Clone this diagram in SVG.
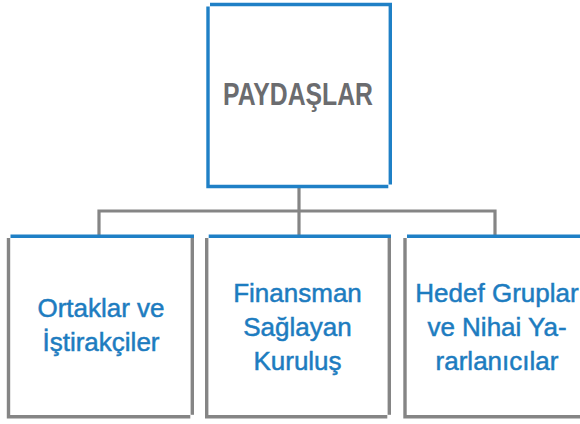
<svg xmlns="http://www.w3.org/2000/svg" width="580" height="424" viewBox="0 0 580 424">
<style>
.conn{fill:none;stroke:#858585;stroke-width:3.2}
.gray{fill:none;stroke:#858585;stroke-width:3.4}
.blue{fill:none;stroke:#1f80c6;stroke-width:3.4}
.lbl{font-family:"Liberation Sans",Arial,sans-serif;font-size:26px;fill:#1d7cc0;stroke:#1d7cc0;stroke-width:0.5;text-anchor:middle}
.title{font-family:"Liberation Sans Narrow","Liberation Sans",Arial,sans-serif;font-size:31px;font-weight:bold;fill:#6b6c6f;text-anchor:middle}
</style>
<rect width="580" height="424" fill="#ffffff"/>
<g id="connectors">
<path class="conn" d="M299,188 V235"/>
<path class="conn" d="M99,235 V211 H495 V235"/>
</g>
<g id="node-paydaslar">
<path class="blue" d="M210,4.5 H390.3 V184.5"/>
<path class="blue" d="M208,6.5 V186.5 H388.3"/>
<text class="title" x="298" y="105" textLength="150" lengthAdjust="spacingAndGlyphs">PAYDAŞLAR</text>
</g>
<g id="node-ortaklar">
<path class="gray" d="M8.5,238 V416.8 H190.3"/>
<path class="gray" d="M192.3,237 V414.8"/>
<path class="blue" d="M10.5,236.2 H194"/>
<text class="lbl" x="101" y="316.7">Ortaklar ve</text>
<text class="lbl" x="101" y="350.7">İştirakçiler</text>
</g>
<g id="node-finansman">
<path class="gray" d="M206.7,238 V416.8 H387.3"/>
<path class="gray" d="M389.3,237 V414.8"/>
<path class="blue" d="M208.7,236.2 H391"/>
<text class="lbl" x="297.5" y="302">Finansman</text>
<text class="lbl" x="297.5" y="336">Sağlayan</text>
<text class="lbl" x="297.5" y="370">Kuruluş</text>
</g>
<g id="node-hedef">
<path class="gray" d="M405,238 V416.8 H586"/>
<path class="blue" d="M407,236.2 H590"/>
<text class="lbl" x="497" y="302">Hedef Gruplar</text>
<text class="lbl" x="497" y="336">ve Nihai Ya-</text>
<text class="lbl" x="497" y="370">rarlanıcılar</text>
</g>
</svg>
